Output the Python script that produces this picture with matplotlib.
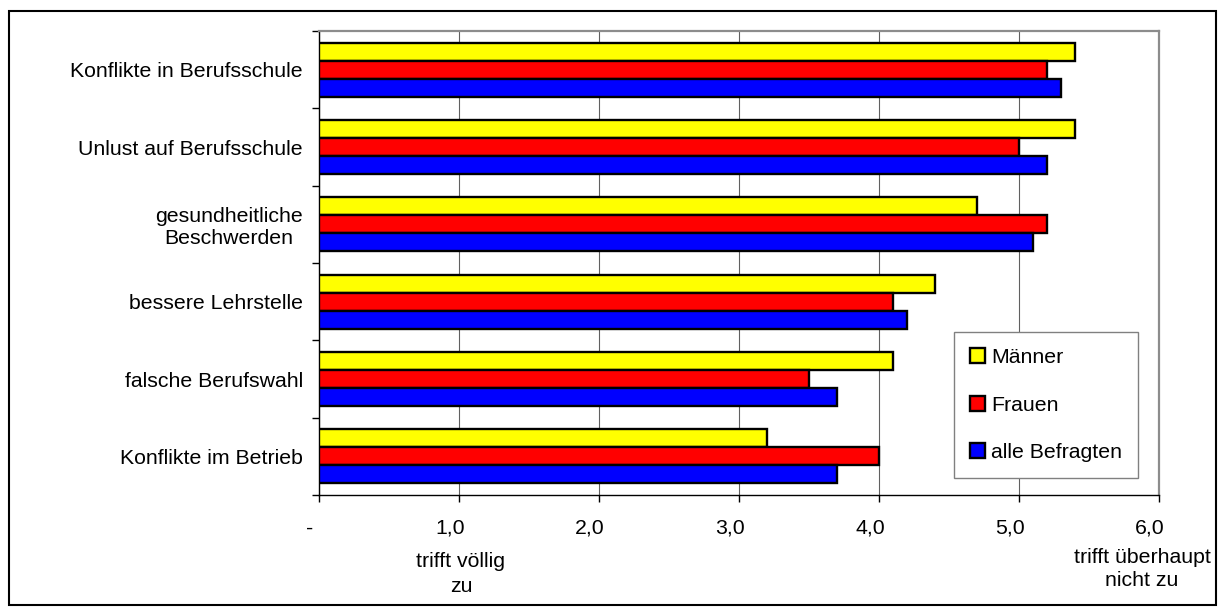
import numpy as np
import matplotlib
matplotlib.use("Agg")
import matplotlib.pyplot as plt
import matplotlib.transforms as mtransforms
from matplotlib.patches import Rectangle

plt.rcParams['font.family'] = ['Liberation Sans', 'DejaVu Sans']

# data
categories = ["Konflikte in Berufsschule", "Unlust auf Berufsschule",
              "gesundheitliche\nBeschwerden", "bessere Lehrstelle",
              "falsche Berufswahl", "Konflikte im Betrieb"]
maenner = [5.4, 5.4, 4.7, 4.4, 4.1, 3.2]
frauen = [5.2, 5.0, 5.2, 4.1, 3.5, 4.0]
alle = [5.3, 5.2, 5.1, 4.2, 3.7, 3.7]
series_names = ["Männer", "Frauen", "alle Befragten"]
xticks = [0, 1, 2, 3, 4, 5, 6]
xtick_labels = ["-", "1,0", "2,0", "3,0", "4,0", "5,0", "6,0"]

FS = 15.3
W, H = 1224, 610
fig = plt.figure(figsize=(W / 100, H / 100), dpi=100)
ax = fig.add_axes([319 / W, 1 - 495 / H, 840 / W, 464 / H])

y = np.arange(len(categories))
h = 0.233
ax.barh(y - h, maenner, height=h, color="#ffff00", edgecolor="black", lw=1.7, label=series_names[0], zorder=3)
ax.barh(y, frauen, height=h, color="#ff0000", edgecolor="black", lw=1.7, label=series_names[1], zorder=3)
ax.barh(y + h, alle, height=h, color="#0000ff", edgecolor="black", lw=1.7, label=series_names[2], zorder=3)

ax.set_xlim(0, 6)
ax.set_ylim(len(categories) - 0.5, -0.5)

# y axis: labels without ticks, separators as minor ticks
ax.set_yticks(y)
ax.set_yticklabels(categories, fontsize=FS)
for lbl in ax.get_yticklabels():
    lbl.set_multialignment("center")
ax.set_yticks(np.arange(-0.5, len(categories), 1), minor=True)
ax.tick_params(axis="y", which="major", length=0, pad=11.5)
ax.tick_params(axis="y", which="minor", length=5, width=1, direction="out")

# x axis
ax.set_xticks(xticks)
ax.set_xticklabels(xtick_labels, fontsize=FS)
ax.tick_params(axis="x", length=5, width=1, pad=12)
shift = mtransforms.ScaledTranslation(-9 / 100, 0, fig.dpi_scale_trans)
for lbl in ax.get_xticklabels():
    lbl.set_transform(lbl.get_transform() + shift)

ax.grid(axis="x", color="#606060", lw=0.8)
ax.set_axisbelow(True)

ax.spines["left"].set_color("black")
ax.spines["bottom"].set_color("black")
ax.spines["left"].set_linewidth(1)
ax.spines["bottom"].set_linewidth(1)
for s in ["top", "right"]:
    ax.spines[s].set_color("#8c8c8c")
    ax.spines[s].set_linewidth(1.6)

# scale annotations under the axis
ax.annotate("trifft völlig\nzu", xy=(1.0, 0), xycoords=("data", "axes fraction"),
            xytext=(2, -57), textcoords="offset pixels", ha="center", va="top",
            fontsize=FS, linespacing=1.4)
ax.annotate("trifft überhaupt\nnicht zu", xy=(6.0, 0), xycoords=("data", "axes fraction"),
            xytext=(-17, -53), textcoords="offset pixels", ha="center", va="top",
            fontsize=FS, linespacing=1.3)

leg = ax.legend(loc="upper left", bbox_to_anchor=(954 / W, 1 - 332 / H),
                bbox_transform=fig.transFigure, frameon=True, fancybox=False,
                edgecolor="#808080", framealpha=1, fontsize=FS,
                handlelength=0.7, handleheight=0.7, handletextpad=0.3,
                labelspacing=1.35, borderpad=0.75, borderaxespad=0)
leg.get_frame().set_linewidth(1)

# outer border
fig.patches.append(Rectangle((9 / W, 1 - 605 / H), (1216 - 9) / W, (605 - 11) / H,
                             transform=fig.transFigure, fill=False,
                             edgecolor="black", lw=1.5))

fig.savefig("out.png", dpi=100)
